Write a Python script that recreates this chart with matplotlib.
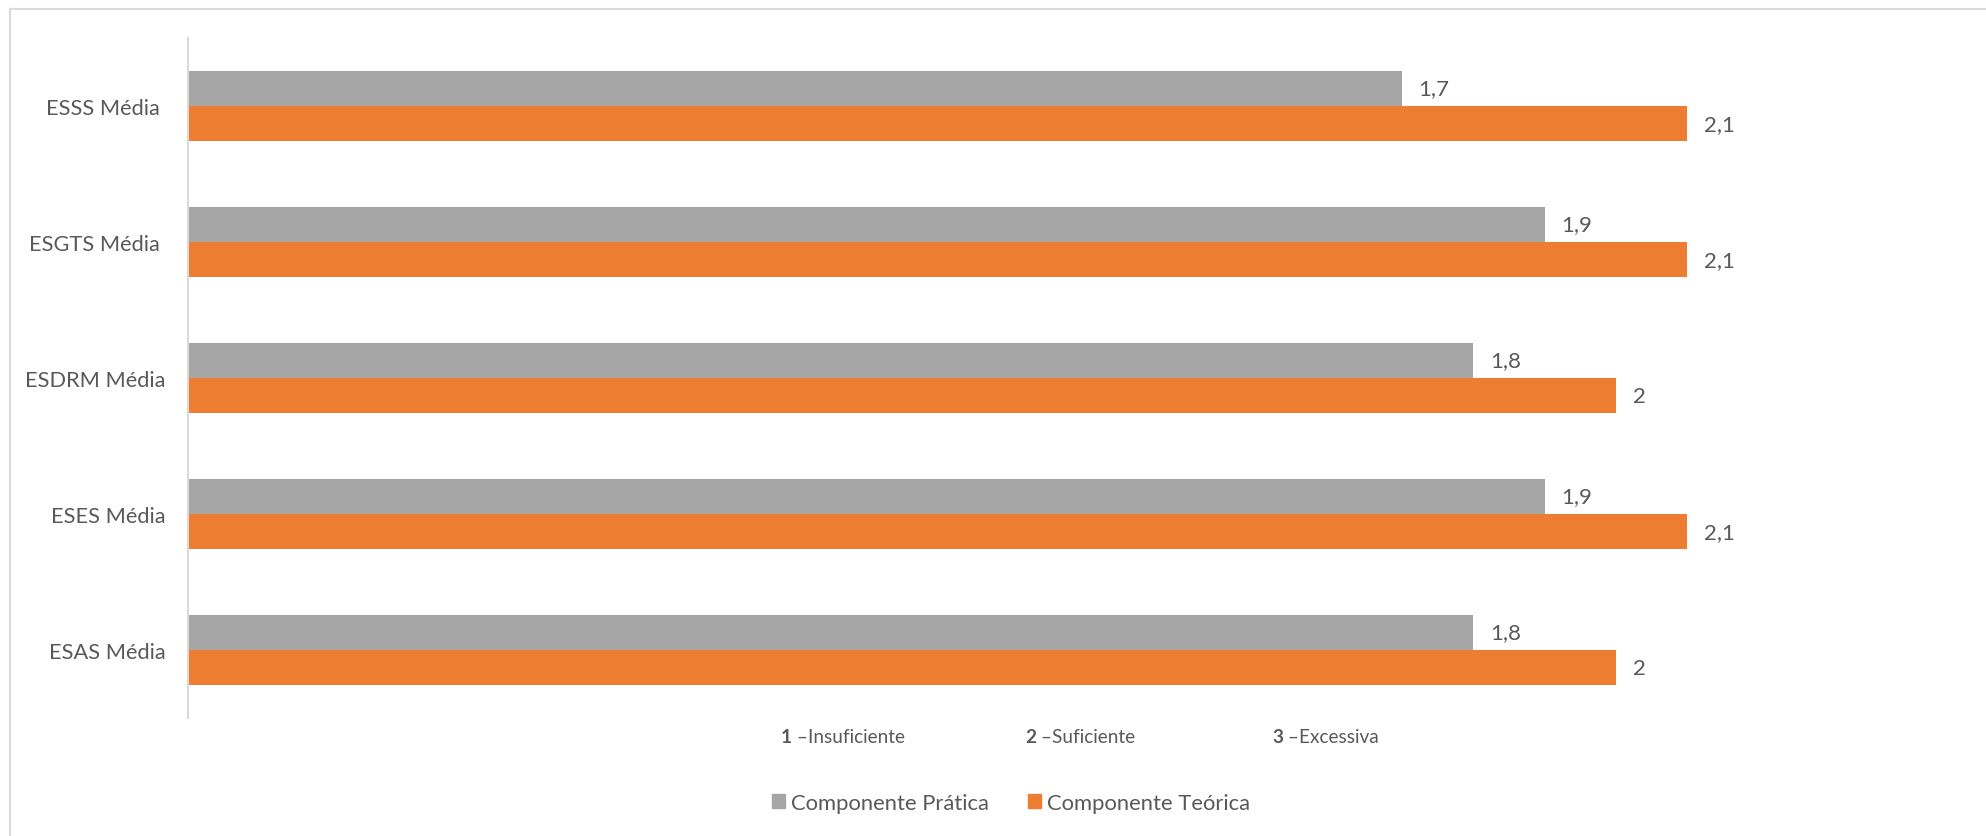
import numpy as np
import matplotlib
matplotlib.use("Agg")
import matplotlib.pyplot as plt
from matplotlib.patches import Patch
from matplotlib.lines import Line2D

plt.rcParams['font.family'] = ['Lato', 'DejaVu Sans']

# data, top to bottom as in the chart
categories = ['ESSS Média ', 'ESGTS Média ', 'ESDRM Média', 'ESES Média', 'ESAS Média']
pratica = [1.7, 1.9, 1.8, 1.9, 1.8]
teorica = [2.1, 2.1, 2.0, 2.1, 2.0]
series_names = ['Componente Prática', 'Componente Teórica']
scale_notes = [('1', ' –Insuficiente'), ('2', ' –Suficiente'), ('3', ' –Excessiva')]

GRAY = '#A5A5A5'
ORANGE = '#ED7D31'
TXT = '#595959'
BORDER = '#D9D9D9'

W, H = 1986, 837
fig = plt.figure(figsize=(W / 100, H / 100), dpi=100)
ax = fig.add_axes([188 / W, 1 - 719 / H, (1973 - 188) / W, (719 - 39) / H])

y = np.arange(len(categories))
bh = 0.26
ax.barh(y - bh / 2, pratica, height=bh, color=GRAY)
ax.barh(y + bh / 2, teorica, height=bh, color=ORANGE)

def fmt(v):
    return f"{v:g}".replace('.', ',')

for yi, v in zip(y, pratica):
    ax.annotate(fmt(v), (v, yi - bh / 2), xytext=(12, 0), textcoords='offset points',
                va='center', ha='left', fontsize=16, color=TXT)
for yi, v in zip(y, teorica):
    ax.annotate(fmt(v), (v, yi + bh / 2), xytext=(12, 0), textcoords='offset points',
                va='center', ha='left', fontsize=16, color=TXT)

ax.set_xlim(0, 2.5)
ax.set_ylim(len(categories) - 0.5, -0.5)
ax.set_yticks(y)
ax.set_yticklabels(categories, fontsize=15.7, color=TXT)
ax.tick_params(axis='y', length=0, pad=16)
ax.set_xticks([])
for s in ['top', 'right', 'bottom']:
    ax.spines[s].set_visible(False)
ax.spines['left'].set_color(BORDER)
ax.spines['left'].set_linewidth(1.5)

# scale notes below the plot
note_x = [781, 1025, 1272]
for (num, rest), nx in zip(scale_notes, note_x):
    t = fig.text(nx / W, 1 - 738 / H, num, fontsize=13.7, fontweight='bold',
                 color=TXT, va='center', ha='left')
    ax.annotate(rest, xy=(1, 0.5), xycoords=t, va='center', ha='left',
                fontsize=13.7, color=TXT)

handles = [Patch(color=GRAY), Patch(color=ORANGE)]
fig.legend(handles, series_names, loc='center', bbox_to_anchor=(1011 / W, 1 - 804 / H),
           ncol=2, frameon=False, fontsize=15.8, labelcolor=TXT,
           handlelength=0.6, handleheight=0.6, handletextpad=0.3, columnspacing=1.75)

# chart border (left and top edges visible)
fig.add_artist(Line2D([10 / W, 10 / W], [0, 1 - 10 / H], transform=fig.transFigure,
                      color=BORDER, lw=1.5))
fig.add_artist(Line2D([10 / W, 1], [1 - 10 / H, 1 - 10 / H], transform=fig.transFigure,
                      color=BORDER, lw=1.5))

fig.savefig('out.png', dpi=100, facecolor='white')
